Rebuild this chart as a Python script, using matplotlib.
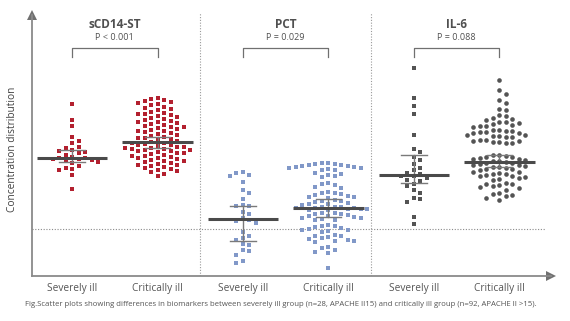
import numpy as np
import matplotlib
matplotlib.use("Agg")
import matplotlib.pyplot as plt

plt.rcParams['font.family'] = ['Open Sans', 'DejaVu Sans']

# Werte (beliebige Einheit, 0 = x-Achse)
sev_scd14 = [172, 156, 150, 139, 135, 133, 129, 128, 126, 125, 124, 123, 121, 119,
             118, 118, 117, 117, 116, 115, 114, 113, 110, 108, 107, 106, 101, 87]
crit_scd14 = [178, 177, 176, 175, 174,
              173, 172, 171, 169, 168, 167, 166, 164,
              163, 162, 162, 161, 160, 159, 158, 157, 156, 155, 154, 154, 153, 152, 151,
              150, 149, 149, 148, 147, 146, 145, 145, 144, 143, 142, 141,
              140, 139, 138, 138, 137, 136, 135, 134,
              133, 133, 132, 131, 131, 130, 129, 129, 128, 128, 127, 127, 126, 126,
              125, 125, 124, 123, 123, 122, 121, 120, 120, 119, 118, 118, 117, 116,
              115, 115, 114, 113, 112, 111, 111, 110, 109, 108,
              107, 106, 105, 104, 102, 100]
sev_pct = [104, 103, 101, 100, 94, 86, 83, 77, 71, 70, 70, 64, 62, 58,
           56, 55, 53, 44, 40, 38, 36, 32, 31, 26, 25, 21, 15, 13]
crit_pct = [113, 113, 112, 112, 111, 111, 110, 110, 109, 109, 108, 108, 107, 106, 106,
            103, 102, 101, 100, 99,
            93, 92, 91, 89, 88,
            84, 83, 83, 82, 81, 80, 79, 79, 78,
            76, 75, 75, 74, 73, 72, 72, 71,
            69, 69, 69, 68, 68, 68, 67, 67, 67, 66, 66,
            63, 63, 62, 62, 61, 60, 60, 59, 58, 58, 57, 56, 56,
            51, 50, 50, 49, 48, 47, 46, 46, 45, 44,
            41, 40, 40, 39, 38, 37, 36, 35, 35, 34,
            29, 28, 26, 24, 23,
            8]
sev_il6 = [208, 178, 170, 162, 141, 127, 124, 119, 116, 112, 108, 106, 103, 102,
           100, 100, 98, 96, 95, 92, 90, 86, 83, 78, 77, 74, 59, 52]
crit_il6 = [196, 186, 182, 176, 173, 167, 166,
            161, 160, 158, 157, 156,
            154, 154, 153, 152, 151, 150, 150, 149,
            146, 146, 145, 145, 144, 144, 143, 143,
            141, 141, 140, 140, 139, 139,
            136, 136, 135, 135, 134, 134, 133, 133,
            121, 121, 120, 119, 119, 118, 117, 117, 116, 115, 115, 114,
            113, 113, 112, 111, 111, 110, 109, 109, 108, 107, 107, 106,
            104, 104, 103, 102, 102, 101, 100, 100, 99, 98, 97, 96,
            93, 92, 92, 91, 90, 89, 88, 86,
            83, 82, 81, 80, 78, 76]

groups = [sev_scd14, crit_scd14, sev_pct, crit_pct, sev_il6, crit_il6]
medians = [118, 134, 57, 68, 101, 114]
err_hi = [126, 139, 70, 77, 121, 121]
err_lo = [114, 128, 35, 59, 93, 109]
group_labels = ["Severely ill", "Critically ill"] * 3
group_colors = ["#b3202f", "#b3202f", "#8198c8", "#8198c8", "#545454", "#545454"]
group_markers = ["s", "s", "s", "s", "s", "o"]

markers_names = ["sCD14-ST", "PCT", "IL-6"]
p_values = ["P < 0.001", "P = 0.029", "P = 0.088"]

caption = ("Fig.Scatter plots showing differences in biomarkers between severely ill group "
           "(n=28, APACHE II15) and critically ill group (n=92, APACHE II >15).")


def swarm(values, dx, dy):
    """Einfache Beeswarm-Anordnung: Punkte in Spalten, die sich nicht ueberlappen."""
    values = np.asarray(values, dtype=float)
    order = np.argsort(values)[::-1]
    offsets = np.zeros(len(values))
    last_in_col = {}
    for n, i in enumerate(order):
        k = 0
        cands = [0]
        for j in range(1, 20):
            cands += [j, -j] if n % 2 == 0 else [-j, j]
        for k in cands:
            if k not in last_in_col or abs(last_in_col[k] - values[i]) >= dy:
                break
        last_in_col[k] = values[i]
        offsets[i] = k * dx
    return offsets


fig = plt.figure(figsize=(5.7, 3.21), dpi=100)
ax = fig.add_axes([32 / 570, 45 / 321, 521 / 570, 266 / 321])
ax.set_xlim(0.532, 6.626)
ax.set_ylim(0, 266)

axis_col = "#8a8a8a"
positions = np.arange(1, 7)

for pos, vals, col, mk in zip(positions, groups, group_colors, group_markers):
    off = swarm(vals, 6.5 / 85.5, 6)
    ax.scatter(pos + off, vals, marker=mk, s=11, color=col, linewidths=0, zorder=3)

# Median und Fehlerbalken
for pos, med, lo, hi in zip(positions, medians, err_lo, err_hi):
    ax.plot([pos, pos], [lo, hi], color="#7a7a7a", lw=1.0, zorder=4)
    ax.plot([pos - 0.15, pos + 0.15], [hi, hi], color="#7a7a7a", lw=1.0, zorder=4)
    ax.plot([pos - 0.15, pos + 0.15], [lo, lo], color="#7a7a7a", lw=1.0, zorder=4)
    ax.plot([pos - 0.41, pos + 0.41], [med, med], color="#4a4a4a", lw=2.2, zorder=5,
            solid_capstyle="butt")

# Trennlinien
for xs in [2.5, 4.5]:
    ax.plot([xs, xs], [0, 263], color="#9a9a9a", lw=0.8, ls=(0, (1, 1.5)), zorder=1)
ax.plot([0.532, 6.53], [47, 47], color="#8a8a8a", lw=0.8, ls=(0, (1, 1.5)), zorder=1)

# Titel, p-Werte und Klammern
for i, (name, p) in enumerate(zip(markers_names, p_values)):
    x1, x2 = positions[2 * i], positions[2 * i + 1]
    xm = (x1 + x2) / 2
    ax.text(xm, 251, name, ha="center", va="center", fontsize=8.5, fontweight="bold",
            color="#505050")
    ax.text(xm, 238, p, ha="center", va="center", fontsize=6.5, color="#505050")
    ax.plot([x1, x1, x2, x2], [219, 228, 228, 219], color="#707070", lw=0.9)

# Achsen
for s in ["top", "right"]:
    ax.spines[s].set_visible(False)
for s in ["left", "bottom"]:
    ax.spines[s].set_color(axis_col)
    ax.spines[s].set_linewidth(1.3)
ax.spines["left"].set_bounds(0, 261)
ax.spines["bottom"].set_bounds(0.532, 6.6)
ax.plot([0.532], [261.5], marker="^", markersize=7, color="#707070", clip_on=False,
        markeredgewidth=0)
ax.plot([6.608], [0], marker=">", markersize=7, color="#707070", clip_on=False,
        markeredgewidth=0)

ax.set_yticks([])
ax.set_xticks(positions)
ax.set_xticklabels(group_labels, fontsize=7.3, color="#555555")
ax.tick_params(axis="x", length=0, pad=5)
ax.set_ylabel("Concentration distribution", fontsize=7.3, color="#404040")
ax.yaxis.set_label_coords(-0.027, 0.477)

fig.text(25 / 570, (321 - 304) / 321, caption, ha="left", va="center", fontsize=5.6,
         color="#555555")

fig.savefig("out.png", dpi=100)
